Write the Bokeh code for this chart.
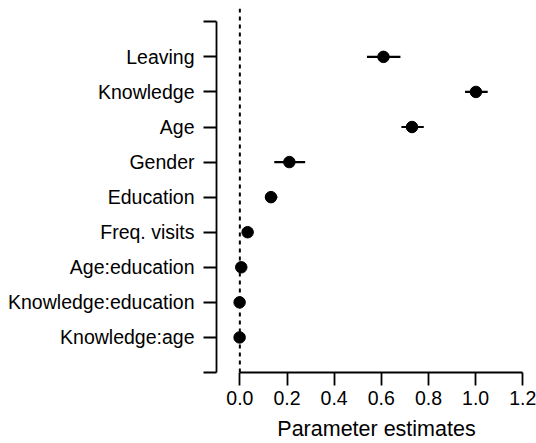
from bokeh.plotting import figure
from bokeh.models import ColumnDataSource, FixedTicker, Span, Range1d
from bokeh.embed import file_html
from bokeh.resources import INLINE

# Data (top to bottom as in the chart)
terms = ["Leaving", "Knowledge", "Age", "Gender", "Education", "Freq. visits",
         "Age:education", "Knowledge:education", "Knowledge:age"]
estimate = [0.609, 1.001, 0.730, 0.210, 0.132, 0.033, 0.006, -0.001, -0.001]
lower = [0.539, 0.955, 0.685, 0.146, 0.108, 0.022, 0.000, -0.006, -0.006]
upper = [0.681, 1.051, 0.780, 0.277, 0.159, 0.044, 0.012, 0.004, 0.004]
x_ticks = [0.0, 0.2, 0.4, 0.6, 0.8, 1.0, 1.2]

n = len(terms)
ypos = [n - i for i in range(n)]  # Leaving at top
src = ColumnDataSource(dict(term=terms, y=ypos, est=estimate, lo=lower, hi=upper))

FONT = "Liberation Sans"

p = figure(width=536, height=443, output_backend="svg", toolbar_location=None,
           x_range=Range1d(-0.099, 1.258), y_range=Range1d(0, 10.379),
           min_border_left=216, min_border_top=8, min_border_right=0, min_border_bottom=71)
p.outline_line_color = None
p.grid.grid_line_color = None
p.background_fill_color = "white"
p.border_fill_color = "white"

# zero reference line
p.add_layout(Span(location=0, dimension="height", line_color="black",
                  line_width=2, line_dash="4 4"))

p.segment(x0="lo", x1="hi", y0="y", y1="y", source=src, line_color="black", line_width=2.2)
p.scatter(x="est", y="y", source=src, size=11.5, fill_color="black", line_color="black")

# x axis
xa = p.xaxis[0]
xa.ticker = FixedTicker(ticks=x_ticks)
xa.bounds = (min(x_ticks), max(x_ticks))
xa.major_label_overrides = {t: f"{t:.1f}" for t in x_ticks}
xa.axis_label = "Parameter estimates"
xa.axis_label_text_font = FONT
xa.axis_label_text_font_size = "21.5px"
xa.axis_label_text_font_style = "normal"
xa.axis_label_text_color = "black"
xa.axis_label_standoff = 9
xa.major_label_text_font = FONT
xa.major_label_text_font_size = "19.5px"
xa.major_label_text_color = "black"
xa.major_label_standoff = 5
xa.axis_line_width = 1.8
xa.major_tick_line_width = 1.8
xa.major_tick_in = 0
xa.major_tick_out = 13
xa.minor_tick_line_color = None

# y axis
ya = p.yaxis[0]
y_ticks = list(range(0, n + 2))
ya.ticker = FixedTicker(ticks=y_ticks)
ya.bounds = (0, n + 1)
overrides = {t: "" for t in y_ticks}
for t, y in zip(terms, ypos):
    overrides[y] = t
ya.major_label_overrides = overrides
ya.major_label_text_font = FONT
ya.major_label_text_font_size = "19.5px"
ya.major_label_text_color = "black"
ya.major_label_standoff = 9
ya.axis_line_width = 1.8
ya.major_tick_line_width = 1.8
ya.major_tick_in = 0
ya.major_tick_out = 13
ya.minor_tick_line_color = None

open("out.html", "w").write(file_html(p, INLINE))
